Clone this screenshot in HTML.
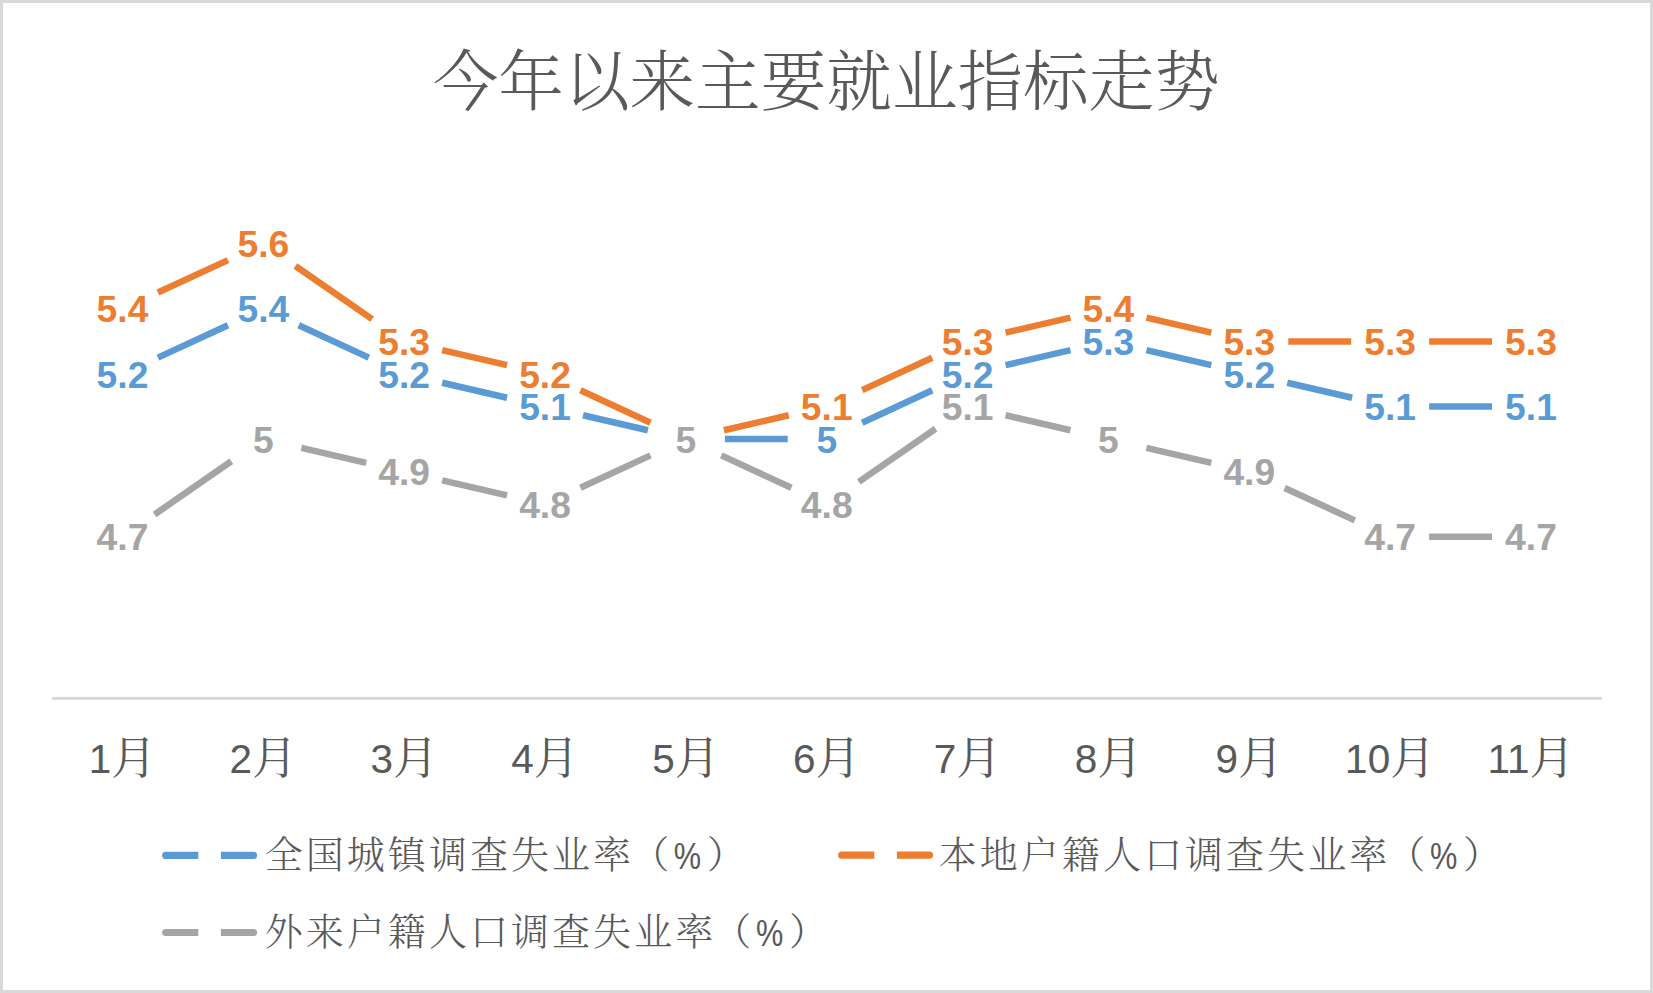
<!DOCTYPE html>
<html lang="zh-CN">
<head>
<meta charset="utf-8">
<title>今年以来主要就业指标走势</title>
<style>
html,body{margin:0;padding:0;background:#fff;}
body{width:1653px;height:993px;overflow:hidden;position:relative;}
#chart{position:absolute;left:0;top:0;width:1653px;height:993px;box-sizing:border-box;border:3px solid #d9d9d9;background:#fff;}
svg{position:absolute;left:0;top:0;display:block;}
.title{font-family:"Liberation Serif","Noto Serif CJK SC",serif;font-weight:300;font-size:65.6px;fill:#595959;}
.dl{font-family:"Liberation Sans","Noto Sans CJK SC",sans-serif;font-weight:700;font-size:36.5px;text-anchor:middle;}
.ax{font-family:"Liberation Sans","Noto Serif CJK SC",sans-serif;fill:#595959;text-anchor:middle;}
.ax .n{font-size:40.5px;}
.ax .m{font-family:"Liberation Serif","Noto Serif CJK SC",serif;font-size:45px;font-weight:400;}
.lg{font-family:"Liberation Serif","Noto Serif CJK SC",serif;font-size:38px;letter-spacing:3.05px;fill:#595959;font-weight:300;}
.lp{font-family:"Liberation Sans","Noto Sans CJK SC",sans-serif;font-size:37.5px;font-weight:400;fill:#595959;}
</style>
</head>
<body>
<div id="chart"></div>
<svg width="1653" height="993" viewBox="0 0 1653 993">

<text class="title" x="826.3" y="104.8" text-anchor="middle">今年以来主要就业指标走势</text>
<rect x="52" y="696.9" width="1550" height="2.9" fill="#d9d9d9"/>
<g stroke="#5B9BD5" stroke-width="6.5" stroke-linecap="butt" fill="none">
<line x1="157.90" y1="357.59" x2="227.95" y2="325.21"/>
<line x1="298.75" y1="325.21" x2="368.80" y2="357.59"/>
<line x1="442.20" y1="382.73" x2="507.05" y2="397.72"/>
<line x1="583.05" y1="415.28" x2="647.90" y2="430.27"/>
<line x1="724.90" y1="439.05" x2="787.75" y2="439.05"/>
<line x1="862.15" y1="422.69" x2="932.20" y2="390.31"/>
<line x1="1005.60" y1="365.17" x2="1070.45" y2="350.18"/>
<line x1="1146.45" y1="350.18" x2="1211.30" y2="365.17"/>
<line x1="1287.30" y1="382.73" x2="1352.15" y2="397.72"/>
<line x1="1429.15" y1="406.50" x2="1492.00" y2="406.50"/>
</g>
<g stroke="#ED7D31" stroke-width="6.5" stroke-linecap="butt" fill="none">
<line x1="157.90" y1="292.49" x2="227.95" y2="260.11"/>
<line x1="295.40" y1="265.97" x2="372.15" y2="319.18"/>
<line x1="442.20" y1="350.18" x2="507.05" y2="365.17"/>
<line x1="580.45" y1="390.31" x2="650.50" y2="422.69"/>
<line x1="723.90" y1="430.27" x2="788.75" y2="415.28"/>
<line x1="862.15" y1="390.14" x2="932.20" y2="357.76"/>
<line x1="1005.60" y1="332.62" x2="1070.45" y2="317.63"/>
<line x1="1146.45" y1="317.63" x2="1211.30" y2="332.62"/>
<line x1="1288.30" y1="341.40" x2="1351.15" y2="341.40"/>
<line x1="1429.15" y1="341.40" x2="1492.00" y2="341.40"/>
</g>
<g stroke="#A5A5A5" stroke-width="6.5" stroke-linecap="butt" fill="none">
<line x1="154.55" y1="514.48" x2="231.30" y2="461.27"/>
<line x1="301.35" y1="447.83" x2="366.20" y2="462.82"/>
<line x1="442.20" y1="480.38" x2="507.05" y2="495.37"/>
<line x1="580.45" y1="487.79" x2="650.50" y2="455.41"/>
<line x1="721.30" y1="455.41" x2="791.35" y2="487.79"/>
<line x1="858.80" y1="481.93" x2="935.55" y2="428.72"/>
<line x1="1005.60" y1="415.28" x2="1070.45" y2="430.27"/>
<line x1="1146.45" y1="447.83" x2="1211.30" y2="462.82"/>
<line x1="1284.70" y1="487.96" x2="1354.75" y2="520.34"/>
<line x1="1429.15" y1="536.70" x2="1492.00" y2="536.70"/>
</g>
<g class="dl" fill="#5B9BD5">
<text transform="translate(122.50 387.55) scale(1.02 1)">5.2</text>
<text transform="translate(263.35 322.45) scale(1.02 1)">5.4</text>
<text transform="translate(404.20 387.55) scale(1.02 1)">5.2</text>
<text transform="translate(545.05 420.10) scale(1.02 1)">5.1</text>
<text transform="translate(826.75 452.65) scale(1.02 1)">5</text>
<text transform="translate(967.60 387.55) scale(1.02 1)">5.2</text>
<text transform="translate(1108.45 355.00) scale(1.02 1)">5.3</text>
<text transform="translate(1249.30 387.55) scale(1.02 1)">5.2</text>
<text transform="translate(1390.15 420.10) scale(1.02 1)">5.1</text>
<text transform="translate(1531.00 420.10) scale(1.02 1)">5.1</text>
</g>
<g class="dl" fill="#ED7D31">
<text transform="translate(122.50 322.45) scale(1.02 1)">5.4</text>
<text transform="translate(263.35 257.35) scale(1.02 1)">5.6</text>
<text transform="translate(404.20 355.00) scale(1.02 1)">5.3</text>
<text transform="translate(545.05 387.55) scale(1.02 1)">5.2</text>
<text transform="translate(826.75 420.10) scale(1.02 1)">5.1</text>
<text transform="translate(967.60 355.00) scale(1.02 1)">5.3</text>
<text transform="translate(1108.45 322.45) scale(1.02 1)">5.4</text>
<text transform="translate(1249.30 355.00) scale(1.02 1)">5.3</text>
<text transform="translate(1390.15 355.00) scale(1.02 1)">5.3</text>
<text transform="translate(1531.00 355.00) scale(1.02 1)">5.3</text>
</g>
<g class="dl" fill="#A5A5A5">
<text transform="translate(122.50 550.30) scale(1.02 1)">4.7</text>
<text transform="translate(263.35 452.65) scale(1.02 1)">5</text>
<text transform="translate(404.20 485.20) scale(1.02 1)">4.9</text>
<text transform="translate(545.05 517.75) scale(1.02 1)">4.8</text>
<text transform="translate(685.90 452.65) scale(1.02 1)">5</text>
<text transform="translate(826.75 517.75) scale(1.02 1)">4.8</text>
<text transform="translate(967.60 420.10) scale(1.02 1)">5.1</text>
<text transform="translate(1108.45 452.65) scale(1.02 1)">5</text>
<text transform="translate(1249.30 485.20) scale(1.02 1)">4.9</text>
<text transform="translate(1390.15 550.30) scale(1.02 1)">4.7</text>
<text transform="translate(1531.00 550.30) scale(1.02 1)">4.7</text>
</g>
<g class="ax">
<text x="122.50" y="773"><tspan class="n">1</tspan><tspan class="m" dy="1">月</tspan></text>
<text x="263.35" y="773"><tspan class="n">2</tspan><tspan class="m" dy="1">月</tspan></text>
<text x="404.20" y="773"><tspan class="n">3</tspan><tspan class="m" dy="1">月</tspan></text>
<text x="545.05" y="773"><tspan class="n">4</tspan><tspan class="m" dy="1">月</tspan></text>
<text x="685.90" y="773"><tspan class="n">5</tspan><tspan class="m" dy="1">月</tspan></text>
<text x="826.75" y="773"><tspan class="n">6</tspan><tspan class="m" dy="1">月</tspan></text>
<text x="967.60" y="773"><tspan class="n">7</tspan><tspan class="m" dy="1">月</tspan></text>
<text x="1108.45" y="773"><tspan class="n">8</tspan><tspan class="m" dy="1">月</tspan></text>
<text x="1249.30" y="773"><tspan class="n">9</tspan><tspan class="m" dy="1">月</tspan></text>
<text x="1390.15" y="773"><tspan class="n">10</tspan><tspan class="m" dy="1">月</tspan></text>
<text x="1531.00" y="773"><tspan class="n">11</tspan><tspan class="m" dy="1">月</tspan></text>
</g>
<g stroke="#5B9BD5" stroke-width="7.2" stroke-linecap="round" fill="none"><line x1="165.7" y1="855.4" x2="253.5" y2="855.4"/></g>
<rect x="198.3" y="849.4" width="22.6" height="12" fill="#fff"/>
<text class="lg" x="264.7" y="868.4">全国城镇调查失业率</text>
<text class="lg" x="631.2" y="868.4">（</text>
<text class="lp" transform="translate(673.8 869.4) scale(0.82 1)">%</text>
<text class="lg" x="707.0" y="868.4">）</text>
<g stroke="#ED7D31" stroke-width="7.2" stroke-linecap="round" fill="none"><line x1="841.7" y1="855.2" x2="929.5" y2="855.2"/></g>
<rect x="874.3" y="849.2" width="22.6" height="12" fill="#fff"/>
<text class="lg" x="938.7" y="868.4">本地户籍人口调查失业率</text>
<text class="lg" x="1387.3" y="868.4">（</text>
<text class="lp" transform="translate(1429.9 869.4) scale(0.82 1)">%</text>
<text class="lg" x="1463.1" y="868.4">）</text>
<g stroke="#A5A5A5" stroke-width="7.2" stroke-linecap="round" fill="none"><line x1="165.7" y1="932.5" x2="253.5" y2="932.5"/></g>
<rect x="198.3" y="926.5" width="22.6" height="12" fill="#fff"/>
<text class="lg" x="264.7" y="944.5">外来户籍人口调查失业率</text>
<text class="lg" x="713.3" y="944.5">（</text>
<text class="lp" transform="translate(755.9 945.5) scale(0.82 1)">%</text>
<text class="lg" x="789.1" y="944.5">）</text>
</svg>
</body>
</html>
